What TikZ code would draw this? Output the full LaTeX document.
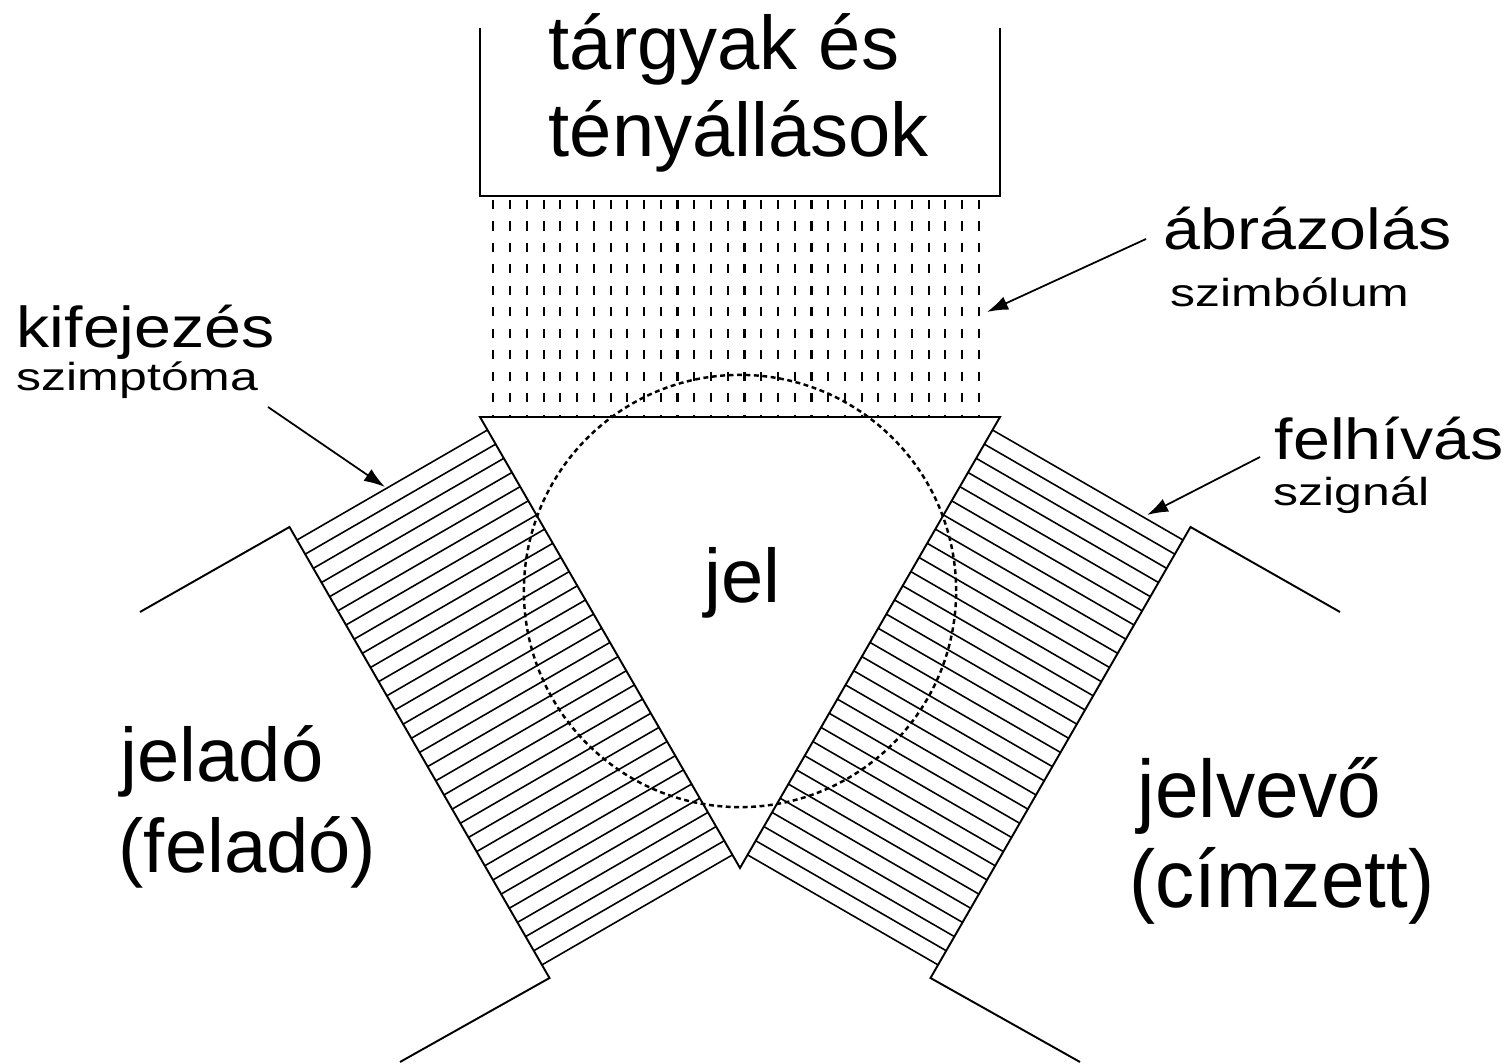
\documentclass[tikz,border=0pt]{standalone}
\usepackage{fontspec}
\setmainfont{Liberation Sans}
\newfontfamily\widesans[FakeStretch=1.28]{Liberation Sans}
\newfontfamily\midsans[FakeStretch=1.15]{Liberation Sans}
\newfontfamily\tallsans[FakeStretch=0.96]{Liberation Sans}
\usetikzlibrary{arrows.meta,calc,positioning}

\tikzset{
  biglbl/.style={anchor=base west, inner sep=0pt, font=\fontsize{21.6}{26}\selectfont},
  talllbl/.style={anchor=base west, inner sep=0pt, font=\tallsans\fontsize{23.2}{28}\selectfont},
  midlbl/.style={anchor=base west, inner sep=0pt, font=\midsans\fontsize{16.4}{20}\selectfont},
  smalllbl/.style={anchor=base west, inner sep=0pt, font=\widesans\fontsize{11.1}{13}\selectfont},
  outline/.style={line width=0.55pt},
  hatch/.style={line width=0.45pt},
  dots/.style={line width=0.6pt, dash pattern=on 2.6pt off 3.5pt},
  pointer/.style={line width=0.5pt, -{Latex[length=6pt,width=4pt]}}
}

\begin{document}
\begin{tikzpicture}[x=0.01cm, y=-0.01cm]
    \useasboundingbox (0,0) rectangle (1508,1064);

    % triangle corners and outer band edges
    \coordinate (tl) at (480,417);
    \coordinate (tr) at (1000,417);
    \coordinate (ap) at (740,868);
    \coordinate (lo1) at (289.5,527);
    \coordinate (lo2) at (549.5,978);
    \coordinate (ro1) at (1190.5,527);
    \coordinate (ro2) at (930.5,978);

    % box of the objects, open at the top
    \draw[outline] (480,28) -- (480,196) -- (1000,196) -- (1000,28);

    % dotted hatching between box and triangle
    \foreach \i in {0,...,29}
        \draw[dots] (493.4+16.74*\i,200) -- (493.4+16.74*\i,417);

    % hatched bands of sender and receiver
    \foreach \k [evaluate=\k as \f using (15+16.33*\k)/520] in {0,...,30} {
        \draw[hatch] ($(lo1)!\f!(lo2)$) -- ($(tl)!\f!(ap)$);
        \draw[hatch] ($(ro1)!\f!(ro2)$) -- ($(tr)!\f!(ap)$);
    }

    % sign triangle
    \draw[outline] (tl) -- (tr) -- (ap) -- cycle;

    % sender and receiver outlines
    \draw[outline] (140,612) -- (lo1) -- (lo2) -- (400,1062);
    \draw[outline] (1340,612) -- (ro1) -- (ro2) -- (1080,1062);

    % dashed circle
    \draw[line width=0.7pt, dash pattern=on 1.4pt off 1pt] (740,591) circle[radius=2.16cm];

    % labels
    \node[biglbl] (obj1) at (548,70) {tárgyak és};
    \node[biglbl] (obj2) at (548,157) {tényállások};
    \node[biglbl] (jel) at (704,603) {jel};
    \node[biglbl] (send1) at (120,782) {jeladó};
    \node[biglbl] (send2) at (118,873) {(feladó)};
    \node[talllbl] (recv1) at (1137,818) {jelvevő};
    \node[talllbl] (recv2) at (1129,908) {(címzett)};

    \node[midlbl] (abr) at (1163,250) {ábrázolás};
    \node[smalllbl] (szimb) at (1170,307) {szimbólum};
    \node[midlbl] (kif) at (16,348) {kifejezés};
    \node[smalllbl] (szimpt) at (16,391) {szimptóma};
    \node[midlbl] (felh) at (1274,460) {felhívás};
    \node[smalllbl] (szign) at (1273,506) {szignál};

    % pointers
    \coordinate (abrtail) at (1146,239);
    \coordinate (abrtip) at (987,312);
    \coordinate (kiftail) at (268,407);
    \coordinate (kiftip) at (385,487);
    \coordinate (felhtail) at (1260,457);
    \coordinate (felhtip) at (1147,515);
    \draw[pointer] (abrtail) -- (abrtip);
    \draw[pointer] (kiftail) -- (kiftip);
    \draw[pointer] (felhtail) -- (felhtip);
\end{tikzpicture}
\end{document}
